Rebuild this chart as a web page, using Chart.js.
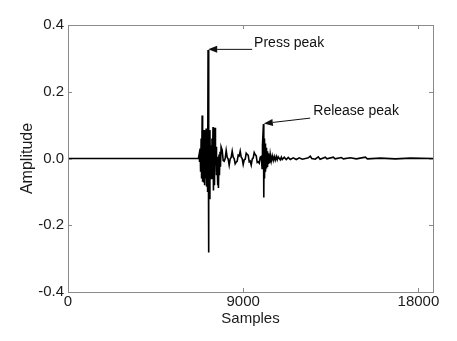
<!DOCTYPE html>
<html>
<head>
<meta charset="utf-8">
<script src="https://cdn.jsdelivr.net/npm/chart.js@4/dist/chart.umd.min.js"></script>
<style>
  html, body { margin: 0; padding: 0; background: #ffffff; }
  #wrap { width: 457px; height: 341px; }
</style>
</head>
<body>
<div id="wrap"><canvas id="wave" width="457" height="341"></canvas></div>
<script>
// Keystroke waveform: [sample index, amplitude] turning points of the recorded trace
const trace = [
  [0, 0], [6700, 0],
  // press burst
  [6737, 0.012], [6760, -0.01], [6789, 0.03], [6812, -0.04], [6840, 0.06], [6862, -0.06],
  [6892, 0.129], [6915, -0.07], [6943, 0.05], [6966, -0.072], [6994, 0.085], [7018, -0.08],
  [7046, 0.07], [7070, -0.06], [7097, 0.09], [7120, -0.085], [7149, 0.05], [7172, -0.1],
  [7195, 0.325], [7215, -0.282], [7240, 0.07], [7262, -0.12], [7290, 0.085], [7315, -0.05],
  [7345, 0.04], [7370, -0.06], [7396, 0.06], [7420, -0.035], [7450, 0.094], [7472, -0.096],
  [7500, 0.075], [7524, -0.08], [7552, 0.092], [7575, -0.02], [7605, 0.035], [7628, -0.05],
  [7655, 0.0], [7680, -0.08], [7705, 0.005], [7728, -0.088], [7758, 0.012], [7780, -0.05],
  [7810, 0.02], [7832, -0.025], [7865, 0.035],
  // ringing between press and release
  [7920, 0.025], [7972, -0.006], [8023, -0.008], [8075, 0.0], [8126, 0.024], [8177, 0.004],
  [8229, -0.002], [8280, -0.02], [8332, -0.001], [8383, 0.003], [8435, 0.022], [8486, 0.004],
  [8537, 0.0], [8589, -0.016], [8640, -0.011], [8692, -0.008], [8743, 0.01], [8795, 0.008],
  [8846, 0.022], [8897, 0.004], [8949, 0.0], [9000, -0.018], [9052, -0.004], [9103, -0.002],
  [9155, 0.016], [9206, 0.012], [9257, 0.01], [9309, -0.01], [9360, -0.008], [9412, -0.02],
  [9463, -0.002], [9515, 0.002], [9566, 0.018], [9617, 0.012], [9669, 0.008], [9720, -0.012],
  [9772, -0.01], [9823, -0.014], [9874, 0.004], [9926, 0.006],
  // release burst
  [9970, -0.03], [9990, 0.04], [10040, 0.103], [10058, -0.117], [10075, 0.06], [10095, -0.06],
  [10125, 0.045], [10145, -0.04], [10178, 0.032], [10198, -0.03], [10230, 0.022], [10250, -0.025],
  [10280, 0.016], [10300, -0.016], [10335, 0.012], [10355, -0.014], [10390, 0.012],
  // decay
  [10440, -0.008], [10492, 0.008], [10545, -0.006], [10595, 0.006], [10646, -0.005], [10700, 0.006],
  [10749, -0.004], [10800, 0.005], [10903, -0.004], [10960, 0.004], [11006, -0.003], [11109, 0.004],
  [11212, -0.003], [11315, 0.003], [11418, -0.003], [11572, 0.002], [11726, -0.003], [11880, 0.002],
  [12034, -0.002], [12250, 0.001], [12343, 0.002], [12446, 0.007], [12520, 0.0], [12700, -0.002],
  [12857, 0.005], [12950, -0.002], [13217, 0.004], [13300, -0.001], [13629, 0.004], [13720, -0.001],
  [14040, 0.003], [14150, -0.001], [14503, 0.002], [14812, -0.001], [15275, 0.004], [15380, -0.001],
  [16046, 0.001], [16818, -0.001], [17590, 0.001], [18750, 0]
];

const xTicks = [0, 9000, 18000];
const yTicks = [-0.4, -0.2, 0.0, 0.2, 0.4];
const xRange = [0, 18750];
const yRange = [-0.4, 0.4];

// Callouts: text anchor, arrow tail and arrow tip, all in data units
const callouts = [
  { text: 'Press peak',   textAt: [9560, 0.346], tail: [9460, 0.327], tip: [7200, 0.327] },
  { text: 'Release peak', textAt: [12600, 0.142], tail: [12440, 0.121], tip: [10060, 0.105] }
];

const FONT = '"Liberation Sans", Arial, Helvetica, sans-serif';
const FRAME = '#8a8a8a';

// Boxed frame with inward tick marks on all four sides
const framePlugin = {
  id: 'frame',
  afterDatasetsDraw(chart) {
    const { ctx, chartArea: a, scales } = chart;
    ctx.save();
    ctx.strokeStyle = FRAME;
    ctx.lineWidth = 1;
    ctx.strokeRect(Math.round(a.left) + 0.5, Math.round(a.top) + 0.5,
                   Math.round(a.right - a.left), Math.round(a.bottom - a.top));
    const len = 4;
    ctx.beginPath();
    xTicks.forEach(v => {
      const x = Math.round(scales.x.getPixelForValue(v)) + 0.5;
      ctx.moveTo(x, a.bottom); ctx.lineTo(x, a.bottom - len);
      ctx.moveTo(x, a.top); ctx.lineTo(x, a.top + len);
    });
    yTicks.forEach(v => {
      const y = Math.round(scales.y.getPixelForValue(v)) + 0.5;
      ctx.moveTo(a.left, y); ctx.lineTo(a.left + len, y);
      ctx.moveTo(a.right, y); ctx.lineTo(a.right - len, y);
    });
    ctx.stroke();
    ctx.restore();
  }
};

// Text labels with arrows pointing at the peaks
const calloutPlugin = {
  id: 'callouts',
  afterDatasetsDraw(chart) {
    const { ctx, scales } = chart;
    const px = p => [scales.x.getPixelForValue(p[0]), scales.y.getPixelForValue(p[1])];
    ctx.save();
    callouts.forEach(c => {
      const [tx, ty] = px(c.textAt);
      ctx.fillStyle = '#111';
      ctx.font = '14px ' + FONT;
      ctx.textAlign = 'left';
      ctx.textBaseline = 'middle';
      ctx.fillText(c.text, tx, ty);

      const [x0, y0] = px(c.tail);
      const [x1, y1] = px(c.tip);
      const ang = Math.atan2(y1 - y0, x1 - x0);
      const head = 9, half = 3.5;
      const bx = x1 - head * Math.cos(ang), by = y1 - head * Math.sin(ang);
      ctx.strokeStyle = '#111';
      ctx.lineWidth = 1;
      ctx.beginPath();
      ctx.moveTo(x0, y0);
      ctx.lineTo(bx, by);
      ctx.stroke();
      ctx.beginPath();
      ctx.moveTo(x1, y1);
      ctx.lineTo(bx + half * Math.sin(ang), by - half * Math.cos(ang));
      ctx.lineTo(bx - half * Math.sin(ang), by + half * Math.cos(ang));
      ctx.closePath();
      ctx.fillStyle = '#111';
      ctx.fill();
    });
    ctx.restore();
  }
};

new Chart(document.getElementById('wave'), {
  type: 'line',
  data: {
    datasets: [{
      data: trace.map(([s, a]) => ({ x: s, y: a })),
      borderColor: '#000000',
      borderWidth: 1.6,
      pointRadius: 0,
      tension: 0,
      fill: false
    }]
  },
  options: {
    responsive: false,
    animation: false,
    devicePixelRatio: 1,
    layout: { padding: { left: 14, top: 25, right: 24, bottom: 9 } },
    plugins: { legend: { display: false }, tooltip: { enabled: false } },
    scales: {
      x: {
        type: 'linear',
        min: xRange[0],
        max: xRange[1],
        grid: { display: false, drawTicks: false },
        border: { display: false },
        afterBuildTicks: s => { s.ticks = xTicks.map(v => ({ value: v })); },
        afterFit: s => { s.height = 40; s.paddingLeft = 0; s.paddingRight = 0; },
        ticks: {
          padding: 1,
          color: '#1a1a1a',
          font: { family: FONT, size: 15 },
          maxRotation: 0,
          callback: v => String(v)
        },
        title: {
          display: true,
          text: 'Samples',
          color: '#1a1a1a',
          font: { family: FONT, size: 15 },
          padding: { top: 0, bottom: 4 }
        }
      },
      y: {
        type: 'linear',
        min: yRange[0],
        max: yRange[1],
        grid: { display: false, drawTicks: false },
        border: { display: false },
        afterBuildTicks: s => { s.ticks = yTicks.map(v => ({ value: v })); },
        afterFit: s => { s.width = 54; s.paddingTop = 0; s.paddingBottom = 0; },
        ticks: {
          padding: 4,
          color: '#1a1a1a',
          font: { family: FONT, size: 15 },
          callback: v => Number(v).toFixed(1)
        },
        title: {
          display: true,
          text: 'Amplitude',
          color: '#1a1a1a',
          font: { family: FONT, size: 16 },
          padding: { top: 4, bottom: 0 }
        }
      }
    }
  },
  plugins: [framePlugin, calloutPlugin]
});
</script>
</body>
</html>
